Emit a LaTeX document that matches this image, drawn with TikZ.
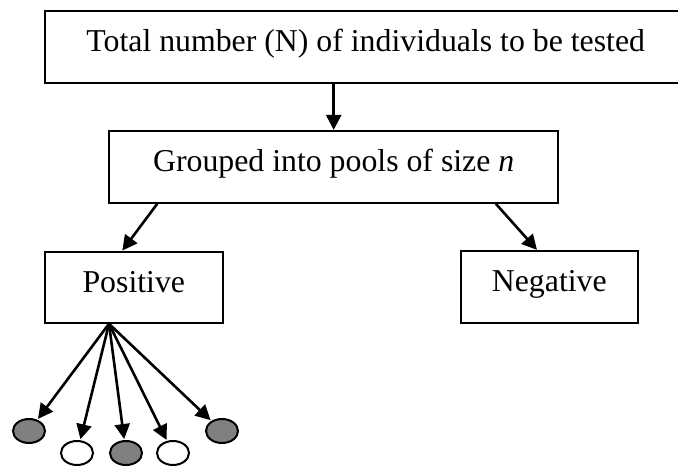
\documentclass[tikz,border=0pt]{standalone}
\usepackage{fontspec}
\setmainfont{Liberation Serif}
\usepackage{xcolor}
\usetikzlibrary{arrows.meta,shapes.geometric}
\definecolor{poolgray}{RGB}{128, 128, 128}

\tikzset{
  stagebox/.style={draw, line width=2.2pt, inner sep=0pt, align=center,
    text height=22pt, text depth=12.3pt,
    font=\fontsize{31.8}{36}\selectfont},
  flowarrow/.style={line width=2.6pt, -{Triangle[length=15pt,width=15pt]}},
  sample/.style={ellipse, draw, line width=2pt, inner sep=0pt,
    minimum width=32pt, minimum height=24pt},
}

\begin{document}
\begin{tikzpicture}[x=1pt, y=-1pt]
\useasboundingbox (0,0) rectangle (678,466);
% boxes of the testing scheme
\node[stagebox, minimum width=641pt, minimum height=71.7pt] (total) at (365.7,46.85)
  {Total number (N) of individuals to be tested};
\node[stagebox, minimum width=448.7pt, minimum height=71.7pt] (pools) at (333.7,166.85)
  {Grouped into pools of size \textit{n}};
\node[stagebox, minimum width=177.7pt, minimum height=71pt] (pos) at (133.8,287.2) {Positive};
\node[stagebox, minimum width=176.7pt, minimum height=72pt] (neg) at (549.3,287) {Negative};
% individuals of a positive pool, retested one by one
\node[sample, fill=poolgray] (s1) at (29,431) {};
\node[sample, fill=white]    (s2) at (77,453) {};
\node[sample, fill=poolgray] (s3) at (126,453) {};
\node[sample, fill=white]    (s4) at (173,453) {};
\node[sample, fill=poolgray] (s5) at (222,431) {};
\coordinate (fan) at ([xshift=-24.8pt]pos.south);

\draw[flowarrow] (total.south -| pools.north) -- (pools.north);
\draw[flowarrow] ([xshift=49pt]pools.south west) -- ([xshift=-11.5pt]pos.north);
\draw[flowarrow] ([xshift=-63.3pt]pools.south east) -- ([xshift=-12.3pt]neg.north);
\foreach \i in {1,...,5} {
    \draw[flowarrow, shorten >=1pt] (fan) -- (s\i);
}
\end{tikzpicture}
\end{document}
